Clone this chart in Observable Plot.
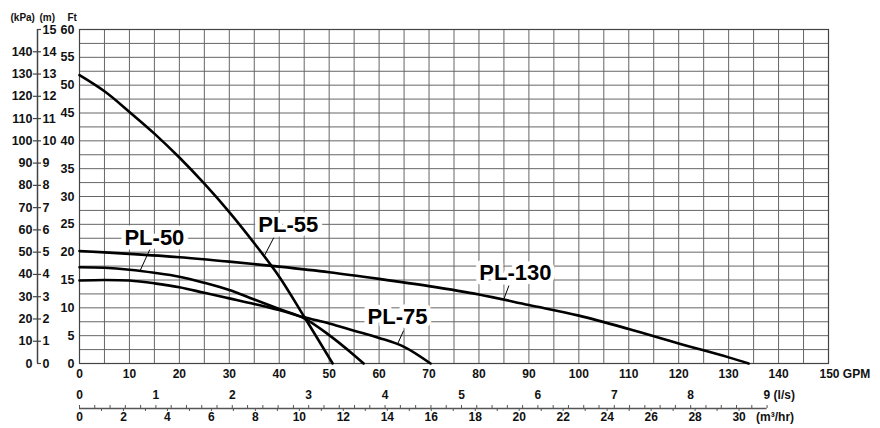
<!DOCTYPE html>
<html><head><meta charset="utf-8">
<script src="https://cdn.jsdelivr.net/npm/d3@7"></script>
<script src="https://cdn.jsdelivr.net/npm/@observablehq/plot@0.6"></script>
<style>
html,body{margin:0;padding:0;background:#fff;}
#chart svg{font-family:"Liberation Sans",Arial,Helvetica,sans-serif;}
</style></head><body><div id="chart"></div>
<script>
// ---- data (flow in GPM, head in Ft) ----
const pl55Gpm = [0, 5, 10, 15, 20, 25, 30, 35, 40, 45, 50.7];
const pl55Ft  = [51.8, 48.9, 45.2, 41.3, 37.0, 32.3, 27.2, 21.6, 15.6, 8.4, 0];
const pl50Gpm = [0, 5, 10, 15, 20, 25, 30, 35, 40, 45, 50, 55, 56.9];
const pl50Ft  = [17.3, 17.2, 16.85, 16.3, 15.6, 14.5, 13.2, 11.5, 9.8, 8.1, 5.1, 1.5, 0];
const pl75Gpm = [0, 5, 10, 15, 20, 25, 30, 35, 40, 45, 50, 55, 60, 65, 70.3];
const pl75Ft  = [14.9, 15.0, 14.9, 14.4, 13.7, 12.7, 11.7, 10.7, 9.6, 8.3, 7.2, 5.9, 4.6, 3.0, 0];
const pl130Gpm = [0, 10, 20, 30, 40, 50, 60, 70, 80, 90, 100, 110, 120, 130, 134];
const pl130Ft  = [20.2, 19.7, 19.1, 18.3, 17.4, 16.4, 15.2, 13.9, 12.4, 10.5, 8.6, 6.2, 3.6, 1.1, 0];

// curve labels (label centre and leader line from label to curve)
const labelNames = ["PL-50", "PL-55", "PL-75", "PL-130"];
const labelGpm   = [15.0, 41.8, 63.7, 87.3];
const labelFt    = [22.6, 24.8, 8.4, 16.3];
const leadFromGpm = [14.2, 38.9, 64.9, 86.0];
const leadFromFt  = [20.7, 22.6, 5.9, 14.0];
const leadToGpm   = [12.2, 37.0, 63.7, 85.0];
const leadToFt    = [16.8, 19.3, 3.5, 11.6];

// tick labels
const gpmTicks = [0, 10, 20, 30, 40, 50, 60, 70, 80, 90, 100, 110, 120, 130, 140];
const ftTicks  = [0, 5, 10, 15, 20, 25, 30, 35, 40, 45, 50, 55, 60];
const mTicks   = [0, 1, 2, 3, 4, 5, 6, 7, 8, 9, 10, 11, 12, 13, 14, 15];
const kpaTicks = [0, 10, 20, 30, 40, 50, 60, 70, 80, 90, 100, 110, 120, 130, 140];
const lpsTicks = [0, 1, 2, 3, 4, 5, 6, 7, 8];
const m3hTicks = [0, 2, 4, 6, 8, 10, 12, 14, 16, 18, 20, 22, 24, 26, 28, 30];

// unit conversions used by the secondary axes
const LPS_GPM = 15.3;   // as drawn on the chart's l/s scale
const M3H_GPM = 4.403;
const FT_PER_M = 4;     // chart's (m) scale: 15 m at the 60 Ft line
const FT_PER_KPA = 0.4;

const series = [
  {name: "PL-55", g: pl55Gpm, f: pl55Ft},
  {name: "PL-50", g: pl50Gpm, f: pl50Ft},
  {name: "PL-75", g: pl75Gpm, f: pl75Ft},
  {name: "PL-130", g: pl130Gpm, f: pl130Ft}
];
const rows = series.flatMap(s => s.g.map((g, i) => ({pump: s.name, gpm: g, ft: s.f[i]})));
const labels = labelNames.map((n, i) => ({
  name: n, x: labelGpm[i], y: labelFt[i],
  x1: leadFromGpm[i], y1: leadFromFt[i], x2: leadToGpm[i], y2: leadToFt[i]
}));

const xGrid = d3.range(0, 150.1, 5);
const yGrid = d3.range(0, 60.1, 2.5);
const lpsMinor = d3.range(0, 9.001, 0.2);
const m3hMinor = d3.range(1, 31, 1);

const B = {fontWeight: "bold", fill: "#111"};

const chart = Plot.plot({
  width: 880, height: 428,
  marginLeft: 79, marginRight: 52, marginTop: 29, marginBottom: 65,
  x: {domain: [0, 150], axis: null},
  y: {domain: [0, 60], axis: null},
  style: {background: "white"},
  marks: [
    Plot.ruleX(xGrid, {stroke: "#666", strokeWidth: 1}),
    Plot.ruleY(yGrid, {stroke: "#666", strokeWidth: 1}),
    Plot.frame({stroke: "#444", strokeWidth: 1.2}),
    Plot.line(rows, {x: "gpm", y: "ft", z: "pump", stroke: "black", strokeWidth: 2.6, curve: "catmull-rom"}),
    Plot.link(labels, {x1: "x1", y1: "y1", x2: "x2", y2: "y2", stroke: "black", strokeWidth: 1}),
    Plot.text(labels, {x: "x", y: "y", text: "name", fontSize: 22, fontWeight: "bold", fill: "black", stroke: "white", strokeWidth: 9}),

    // Ft axis
    Plot.text(ftTicks, {y: d => d, text: d => String(d), frameAnchor: "left", dx: -5, textAnchor: "end", fontSize: 12.5, ...B}),
    // (m) / (kPa) axis
    Plot.ruleX([0], {y1: 0, y2: 60, dx: -42, stroke: "#444", strokeWidth: 1.5}),
    Plot.ruleY(mTicks, {y: d => d * FT_PER_M, x1: 0, x2: 0, insetLeft: -42, insetRight: 38, stroke: "#444", strokeWidth: 1.2}),
    Plot.ruleY(kpaTicks.filter(d => d > 0), {y: d => d * FT_PER_KPA, x1: 0, x2: 0, insetLeft: -46, insetRight: 42, stroke: "#444", strokeWidth: 1.2}),
    Plot.text(mTicks, {y: d => d * FT_PER_M, text: d => String(d), frameAnchor: "left", dx: -37, textAnchor: "start", fontSize: 12.5, ...B}),
    Plot.text(kpaTicks, {y: d => d * FT_PER_KPA, text: d => String(d), frameAnchor: "left", textAnchor: "end", fontSize: 12.5, ...B, dx: -47}),
    Plot.text(["(kPa)"], {frameAnchor: "top-left", dx: -69, dy: -16, textAnchor: "start", fontSize: 10, ...B}),
    Plot.text(["(m)"], {frameAnchor: "top-left", dx: -40, dy: -16, textAnchor: "start", fontSize: 10, ...B}),
    Plot.text(["Ft"], {frameAnchor: "top-left", dx: -12, dy: -16, textAnchor: "start", fontSize: 10, ...B}),

    // GPM axis
    Plot.text(gpmTicks, {x: d => d, text: d => String(d), frameAnchor: "bottom", dy: 14, fontSize: 12, ...B}),
    Plot.text(["150 GPM"], {x: 150, frameAnchor: "bottom", dy: 14, dx: -9, textAnchor: "start", fontSize: 12, ...B}),

    // l/s and m3/hr scale
    Plot.ruleY([0], {x1: 0, x2: 9 * LPS_GPM, dy: 45, stroke: "#555", strokeWidth: 1.3}),
    Plot.ruleX(lpsMinor, {x: d => d * LPS_GPM, y1: 0, y2: 0, insetTop: -3, dy: 45, stroke: "#555", strokeWidth: 1}),
    Plot.ruleX(m3hMinor, {x: d => d * M3H_GPM, y1: 0, y2: 0, insetBottom: -3, dy: 45, stroke: "#555", strokeWidth: 1}),
    Plot.text(lpsTicks, {x: d => d * LPS_GPM, text: d => String(d), frameAnchor: "bottom", dy: 35, fontSize: 12, ...B}),
    Plot.text([9], {x: d => d * LPS_GPM, text: d => d + " (l/s)", frameAnchor: "bottom", dy: 35, dx: -3.5, textAnchor: "start", fontSize: 12, ...B}),
    Plot.text(m3hTicks, {x: d => d * M3H_GPM, text: d => String(d), frameAnchor: "bottom", dy: 57, fontSize: 12, ...B}),
    Plot.text([30], {x: d => d * M3H_GPM, text: () => "(m³/hr)", frameAnchor: "bottom", dy: 57, dx: 17, textAnchor: "start", fontSize: 12, ...B})
  ]
});
document.getElementById("chart").appendChild(chart);
</script>
</body></html>
